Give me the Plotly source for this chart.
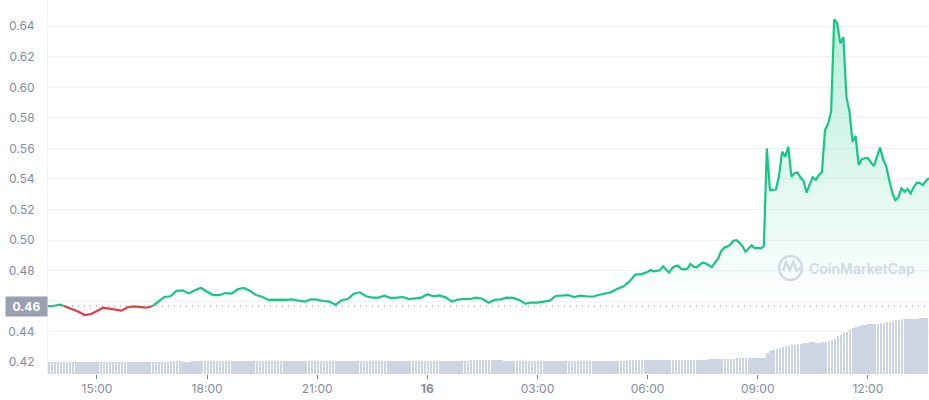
import numpy as np
import pandas as pd
import plotly.graph_objects as go

# ---------------- data ----------------
# price every 10 min from 13:40 (day 15) to 05:30 (day 16)
price_10min = [
    0.4568, 0.4570, 0.4577, 0.4562, 0.4544, 0.4531, 0.4509, 0.4516, 0.4536, 0.4557,
    0.4551, 0.4542, 0.4538, 0.4560, 0.4566, 0.4562, 0.4557, 0.4566, 0.4597, 0.4627,
    0.4632, 0.4667, 0.4671, 0.4651, 0.4671, 0.4688, 0.4662, 0.4640, 0.4640, 0.4653,
    0.4649, 0.4678, 0.4686, 0.4669, 0.4640, 0.4629, 0.4608, 0.4610, 0.4610, 0.4608,
    0.4612, 0.4603, 0.4597, 0.4612, 0.4610, 0.4601, 0.4597, 0.4575, 0.4606, 0.4614,
    0.4649, 0.4658, 0.4632, 0.4623, 0.4623, 0.4636, 0.4621, 0.4623, 0.4627, 0.4614,
    0.4619, 0.4623, 0.4645, 0.4632, 0.4638, 0.4625, 0.4597, 0.4610, 0.4614, 0.4614,
    0.4623, 0.4616, 0.4590, 0.4608, 0.4612, 0.4623, 0.4621, 0.4608, 0.4584, 0.4590,
    0.4590, 0.4597, 0.4603, 0.4634, 0.4638, 0.4640, 0.4627, 0.4636, 0.4632, 0.4629,
    0.4640, 0.4651, 0.4658, 0.4680, 0.4695, 0.4728,
]
# price every 5 min from 05:40 to 13:40 (day 16)
price_5min = [
    0.4774, 0.4776, 0.4776, 0.4785, 0.4791, 0.4804, 0.4795, 0.4798, 0.4802, 0.4828,
    0.4808, 0.4787, 0.4815, 0.4830, 0.4832, 0.4811, 0.4808, 0.4811, 0.4844, 0.4826,
    0.4822, 0.4839, 0.4852, 0.4848, 0.4832, 0.4822, 0.4852, 0.4876, 0.4924, 0.4950,
    0.4957, 0.4970, 0.4994, 0.5000, 0.4983, 0.4961, 0.4924, 0.4946, 0.4966, 0.4946,
    0.4950, 0.4944, 0.4961, 0.5600, 0.5329, 0.5329, 0.5333, 0.5426, 0.5579, 0.5546,
    0.5612, 0.5415, 0.5437, 0.5444, 0.5409, 0.5387, 0.5310, 0.5365, 0.5411, 0.5394,
    0.5426, 0.5444, 0.5721, 0.5760, 0.5841, 0.6446, 0.6420, 0.6289, 0.6328, 0.5939,
    0.5841, 0.5644, 0.5682, 0.5492, 0.5529, 0.5536, 0.5538, 0.5509, 0.5485, 0.5546,
    0.5608, 0.5529, 0.5485, 0.5394, 0.5310, 0.5262, 0.5280, 0.5339, 0.5317, 0.5334,
    0.5306, 0.5346, 0.5376, 0.5374, 0.5359, 0.5389, 0.5405,
]
# 24h rolling volume (M), one bar every 5 min from 13:40
volume_m = [
    12.0, 12.0, 12.0, 12.0, 12.0, 12.0, 12.0, 12.0, 12.0, 12.0,
    12.0, 12.0, 12.0, 12.0, 12.0, 12.0, 12.0, 12.0, 12.0, 12.0,
    12.0, 12.0, 12.0, 12.0, 12.0, 12.0, 12.0, 12.0, 12.0, 12.0,
    12.0, 12.0, 12.0, 12.0, 12.0, 12.0, 12.0, 12.0, 12.0, 12.0,
    13.3, 13.3, 13.3, 13.3, 12.0, 12.0, 12.0, 13.0, 13.0, 13.0,
    13.0, 13.0, 13.0, 13.0, 13.0, 13.0, 13.0, 13.0, 13.0, 13.0,
    13.0, 13.0, 13.0, 13.0, 13.0, 13.0, 13.0, 13.0, 13.0, 13.0,
    13.0, 13.0, 13.0, 13.0, 13.0, 13.0, 13.0, 13.0, 13.0, 13.0,
    13.0, 13.0, 13.0, 13.0, 13.0, 13.0, 13.0, 13.0, 13.0, 13.0,
    13.0, 13.0, 13.0, 13.0, 13.0, 13.0, 13.0, 13.0, 13.0, 13.0,
    13.0, 13.0, 13.0, 13.0, 13.0, 13.0, 13.0, 13.0, 13.0, 13.0,
    13.0, 13.0, 13.0, 13.0, 13.0, 13.0, 13.0, 13.0, 13.0, 13.0,
    13.0, 13.0, 13.0, 13.0, 13.0, 13.0, 13.0, 13.0, 13.0, 13.0,
    13.0, 13.0, 13.0, 13.0, 13.0, 13.0, 13.0, 13.0, 14.0, 14.0,
    14.0, 14.0, 14.0, 14.0, 14.0, 14.0, 14.0, 14.0, 14.0, 13.0,
    13.0, 13.0, 13.0, 13.0, 13.0, 13.0, 13.0, 13.0, 13.0, 13.0,
    13.0, 13.0, 13.0, 13.0, 13.0, 13.0, 13.0, 13.0, 13.0, 13.0,
    13.0, 13.0, 13.0, 13.0, 13.0, 13.0, 13.0, 13.0, 13.0, 13.0,
    13.0, 13.0, 13.0, 13.0, 13.0, 13.0, 13.0, 13.0, 13.0, 13.0,
    14.0, 14.0, 14.0, 14.0, 14.0, 14.0, 14.0, 14.0, 14.0, 14.0,
    14.0, 14.0, 14.0, 14.0, 14.0, 14.0, 14.0, 14.0, 14.0, 14.0,
    14.0, 14.0, 14.0, 14.0, 14.0, 14.0, 15.0, 15.0, 15.0, 15.0,
    15.0, 15.0, 15.0, 15.0, 15.0, 16.0, 16.0, 16.0, 16.0, 16.0,
    16.0, 16.0, 16.0, 16.0, 16.0, 21.3, 23.0, 24.0, 25.0, 26.0,
    27.0, 28.0, 28.0, 29.0, 29.0, 30.0, 30.0, 31.0, 31.0, 32.0,
    32.0, 31.0, 31.0, 32.0, 32.0, 33.0, 34.0, 35.0, 38.0, 39.0,
    41.0, 42.0, 45.0, 46.0, 47.0, 48.0, 49.0, 49.0, 49.7, 50.0,
    50.0, 50.0, 51.0, 51.0, 52.0, 52.0, 53.0, 54.0, 54.0, 55.0,
    55.0, 55.0, 55.0, 55.0, 55.0, 56.0, 56.0, 56.0,
]
open_price = 0.4568
y_ticks = [0.42, 0.44, 0.46, 0.48, 0.50, 0.52, 0.54, 0.56, 0.58, 0.60, 0.62, 0.64]
x_ticks = ["2023-03-15 15:00", "2023-03-15 18:00", "2023-03-15 21:00", "2023-03-16 00:00",
           "2023-03-16 03:00", "2023-03-16 06:00", "2023-03-16 09:00", "2023-03-16 12:00"]
x_tick_text = ["15:00", "18:00", "21:00", "<b>16</b>", "03:00", "06:00", "09:00", "12:00"]
start_time = "2023-03-15 13:40"
end_time = "2023-03-16 13:40"

# ---------------- build series ----------------
t10 = pd.date_range(start_time, periods=len(price_10min), freq="10min")
t5 = pd.date_range("2023-03-16 05:40", periods=len(price_5min), freq="5min")
times = list(t10) + list(t5)
prices = price_10min + price_5min
tv = pd.date_range(start_time, periods=len(volume_m), freq="5min")

ts = np.array([t.value // 10**6 for t in times], dtype=float)  # ms
xs, ys = [], []
for i, p in enumerate(prices):
    if i > 0 and (prices[i - 1] - open_price) * (p - open_price) < 0:
        f = (open_price - prices[i - 1]) / (p - prices[i - 1])
        xs.append(ts[i - 1] + f * (ts[i] - ts[i - 1]))
        ys.append(open_price)
    xs.append(ts[i])
    ys.append(p)
xdt = pd.to_datetime(np.array(xs), unit="ms")
ys = np.array(ys)
green_y = [y if y >= open_price else None for y in ys]
red_y = [y if y <= open_price else None for y in ys]
fill_y = np.maximum(ys, open_price)

GREEN = "#16c784"
RED = "#ea3943"
GRID = "#eff2f5"
TXT = "#858ca2"
WM = "#d3d8e4"

fig = go.Figure()
fig.add_trace(go.Bar(x=tv, y=volume_m, yaxis="y2", marker=dict(color="#cdd4e2", line=dict(width=0)),
                     width=195000, offset=0, hoverinfo="skip", showlegend=False))
fig.add_trace(go.Scatter(x=xdt, y=[open_price] * len(xdt), mode="lines", line=dict(width=0),
                         hoverinfo="skip", showlegend=False))
fig.add_trace(go.Scatter(x=xdt, y=fill_y, mode="lines", line=dict(width=0), fill="tonexty",
                         fillgradient=dict(type="vertical", start=open_price, stop=0.645,
                                           colorscale=[[0, "rgba(22,199,132,0)"], [1, "rgba(22,199,132,0.30)"]]),
                         hoverinfo="skip", showlegend=False))
fig.add_trace(go.Scatter(x=xdt, y=red_y, mode="lines", line=dict(color=RED, width=2.2),
                         connectgaps=False, showlegend=False))
fig.add_trace(go.Scatter(x=xdt, y=green_y, mode="lines", line=dict(color=GREEN, width=2.2),
                         connectgaps=False, showlegend=False))

fig.add_shape(type="line", xref="paper", x0=0, x1=1, yref="y", y0=open_price, y1=open_price,
              line=dict(color="#8a91a5", width=1, dash="1px,5px"), layer="above")

# watermark
fig.add_shape(type="circle", xref="paper", yref="paper", x0=0.8297, x1=0.8558, y0=0.2513, y1=0.3155,
              line=dict(color=WM, width=2.5), layer="above")
fig.add_shape(type="path", xref="paper", yref="paper",
              path="M 0.8343 0.2755 L 0.8377 0.2995 L 0.8420 0.2780 L 0.8462 0.2995 L 0.8497 0.2760 L 0.8540 0.2840",
              line=dict(color=WM, width=2.5), layer="above")
fig.add_annotation(text="CoinMarketCap", xref="paper", yref="paper", x=0.862, y=0.2834,
                   xanchor="left", yanchor="middle", showarrow=False,
                   font=dict(family="Inter", size=14, color=WM, weight=600))

# current/open price label
fig.add_annotation(text="<b>0.46</b>", xref="paper", x=0, xanchor="right", yref="y", y=open_price,
                   yanchor="middle", showarrow=False, bgcolor="#9aa0b0", width=37, height=15, borderpad=2,
                   font=dict(family="Inter", size=12, color="white"))

fig.update_layout(
    width=929, height=400,
    margin=dict(l=48, r=0, t=0, b=26),
    paper_bgcolor="white", plot_bgcolor="white",
    font=dict(family="Inter", size=12, color=TXT),
    bargap=0,
    xaxis=dict(type="date", range=[start_time, end_time], tickvals=x_ticks, ticktext=x_tick_text,
               showgrid=False, zeroline=False, showline=False, ticks="outside", ticklen=4,
               tickcolor="#7b8194", tickwidth=1, tickfont=dict(size=12, color=TXT)),
    yaxis=dict(range=[0.4123, 0.6572], tickvals=y_ticks,
               ticktext=["" if abs(v - 0.46) < 1e-9 else f"{v:.2f}" for v in y_ticks],
               showgrid=True, gridcolor=GRID, gridwidth=1, zeroline=False,
               showline=True, linecolor=GRID, linewidth=1, ticks="", ticklabelstandoff=10,
               tickfont=dict(size=12, color=TXT)),
    yaxis2=dict(overlaying="y", range=[0, 374], visible=False, showgrid=False),
    showlegend=False,
)

fig.write_html("out.html", config={"displayModeBar": False},
               post_script="document.body.style.margin='0';document.body.style.overflow='hidden';")
